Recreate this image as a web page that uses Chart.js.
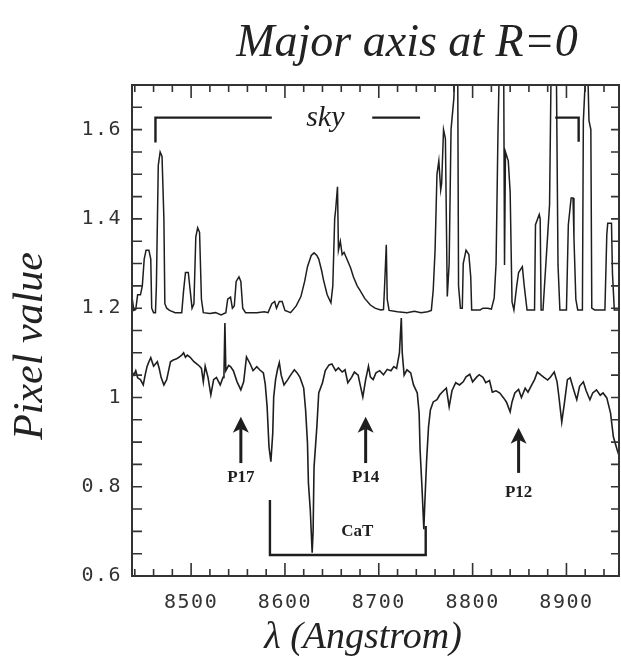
<!DOCTYPE html>
<html>
<head>
<meta charset="utf-8">
<script src="https://cdn.jsdelivr.net/npm/chart.js@4.4.0/dist/chart.umd.min.js"></script>
<style>
html, body { margin: 0; padding: 0; background: #fff; }
#wrap { width: 621px; height: 660px; }
</style>
</head>
<body>
<div id="wrap"><canvas id="myChart" width="621" height="660"></canvas></div>
<script>
// sky spectrum (upper trace)
const skyWave = [8437, 8439, 8441, 8443, 8446, 8448, 8450, 8452, 8455, 8457, 8458, 8460, 8462, 8463, 8465, 8467, 8469, 8471, 8472, 8474,
    8477, 8483, 8490, 8492, 8494, 8497, 8499, 8501, 8503, 8505, 8507, 8509, 8511, 8513, 8520, 8526, 8532, 8537, 8539, 8542,
    8544, 8546, 8548, 8551, 8553, 8555, 8558, 8570, 8578, 8582, 8586, 8589, 8591, 8594, 8597, 8600, 8606, 8612, 8617, 8621,
    8624, 8628, 8631, 8634, 8636, 8639, 8641, 8645, 8649, 8651, 8653, 8654, 8656, 8657, 8659, 8661, 8663, 8666, 8670, 8673,
    8677, 8680, 8685, 8691, 8696, 8702, 8705, 8706, 8708, 8709, 8711, 8720, 8730, 8738, 8745, 8752, 8756, 8758, 8760, 8762,
    8764, 8766, 8767, 8769, 8771, 8773, 8775, 8777, 8780, 8782, 8784, 8785, 8787, 8789, 8790, 8793, 8796, 8798, 8799, 8808,
    8811, 8816, 8820, 8823, 8825, 8827, 8829, 8833, 8834, 8835, 8838, 8840, 8842, 8844, 8847, 8849, 8853, 8855, 8858, 8866,
    8867, 8871, 8872, 8873, 8875, 8882, 8884, 8889, 8891, 8893, 8900, 8902, 8905, 8907, 8908, 8910, 8912, 8917, 8918, 8922,
    8924, 8926, 8927, 8930, 8941, 8943, 8944, 8948, 8949, 8951, 8956];
const skyFlux = [1.225, 1.195, 1.197, 1.23, 1.23, 1.25, 1.31, 1.33, 1.33, 1.31, 1.20, 1.19, 1.19, 1.25, 1.52, 1.55, 1.54, 1.40, 1.21, 1.20,
    1.195, 1.19, 1.19, 1.24, 1.28, 1.28, 1.24, 1.20, 1.21, 1.36, 1.38, 1.37, 1.22, 1.19, 1.188, 1.19, 1.185, 1.19, 1.22, 1.225,
    1.20, 1.205, 1.26, 1.27, 1.26, 1.20, 1.19, 1.19, 1.192, 1.19, 1.21, 1.215, 1.20, 1.215, 1.215, 1.195, 1.19, 1.205, 1.226, 1.26,
    1.293, 1.318, 1.324, 1.318, 1.31, 1.285, 1.264, 1.23, 1.212, 1.25, 1.40, 1.42, 1.472, 1.33, 1.35, 1.32, 1.325, 1.31, 1.29, 1.27,
    1.25, 1.24, 1.222, 1.207, 1.20, 1.196, 1.197, 1.24, 1.342, 1.22, 1.195, 1.192, 1.19, 1.193, 1.19, 1.192, 1.195, 1.24, 1.33, 1.50,
    1.53, 1.465, 1.48, 1.60, 1.58, 1.226, 1.30, 1.60, 1.67, 1.80, 1.80, 1.25, 1.20, 1.20, 1.30, 1.33, 1.32, 1.27, 1.196, 1.196,
    1.20, 1.20, 1.198, 1.223, 1.30, 1.59, 1.80, 1.80, 1.297, 1.55, 1.53, 1.46, 1.214, 1.196, 1.25, 1.28, 1.293, 1.25, 1.196, 1.196,
    1.387, 1.41, 1.40, 1.196, 1.196, 1.432, 1.80, 1.80, 1.297, 1.196, 1.196, 1.387, 1.447, 1.447, 1.358, 1.22, 1.196, 1.196, 1.618, 1.80,
    1.62, 1.60, 1.20, 1.196, 1.196, 1.365, 1.39, 1.39, 1.28, 1.196, 1.196];

// galaxy spectrum (lower trace)
const galWave = [8437, 8439, 8441, 8443, 8446, 8449, 8451, 8453, 8455, 8457, 8460, 8462, 8464, 8466, 8468, 8471, 8474, 8476, 8478, 8481,
    8484, 8487, 8490, 8492, 8494, 8496, 8499, 8503, 8506, 8509, 8511, 8513, 8515, 8518, 8521, 8524, 8527, 8531, 8534, 8535,
    8536, 8537, 8540, 8542, 8545, 8549, 8553, 8556, 8559, 8563, 8566, 8570, 8573, 8577, 8579, 8581, 8583, 8585, 8587, 8588,
    8590, 8592, 8594, 8596, 8599, 8603, 8606, 8610, 8613, 8616, 8620, 8622, 8624, 8625, 8627, 8629, 8630, 8631, 8634, 8636,
    8640, 8643, 8647, 8650, 8654, 8657, 8661, 8664, 8667, 8671, 8674, 8678, 8680, 8683, 8686, 8689, 8691, 8694, 8697, 8701,
    8705, 8709, 8713, 8716, 8719, 8722, 8724, 8725, 8727, 8730, 8734, 8737, 8741, 8743, 8744, 8746, 8748, 8749, 8751, 8753,
    8755, 8758, 8762, 8765, 8769, 8772, 8775, 8778, 8782, 8786, 8790, 8793, 8797, 8800, 8804, 8807, 8811, 8814, 8818, 8821,
    8825, 8829, 8833, 8836, 8840, 8842, 8845, 8849, 8852, 8856, 8859, 8863, 8866, 8869, 8873, 8876, 8880, 8883, 8887, 8890,
    8892, 8895, 8898, 8901, 8904, 8908, 8911, 8914, 8918, 8921, 8925, 8928, 8932, 8936, 8939, 8943, 8947, 8950, 8954, 8956];
const galFlux = [1.057, 1.050, 1.060, 1.044, 1.040, 1.028, 1.050, 1.069, 1.080, 1.089, 1.070, 1.075, 1.080, 1.065, 1.045, 1.028, 1.040, 1.060, 1.080, 1.084,
    1.086, 1.090, 1.095, 1.100, 1.090, 1.095, 1.090, 1.080, 1.075, 1.070, 1.065, 1.035, 1.070, 1.045, 1.006, 1.040, 1.045, 1.028, 1.045, 1.050,
    1.167, 1.060, 1.072, 1.069, 1.060, 1.035, 1.017, 1.035, 1.091, 1.075, 1.060, 1.069, 1.062, 1.055, 1.030, 0.979, 0.889, 0.856, 0.920, 1.001,
    1.040, 1.062, 1.078, 1.050, 1.028, 1.040, 1.050, 1.062, 1.055, 1.045, 1.021, 0.972, 0.898, 0.809, 0.748, 0.652, 0.700, 0.844, 0.934, 1.010,
    1.033, 1.060, 1.073, 1.075, 1.060, 1.066, 1.057, 1.062, 1.033, 1.045, 1.057, 1.050, 1.030, 1.001, 1.040, 1.070, 1.046, 1.040, 1.055, 1.060,
    1.051, 1.063, 1.060, 1.069, 1.065, 1.100, 1.178, 1.100, 1.050, 1.062, 1.055, 1.028, 1.010, 0.965, 0.883, 0.800, 0.705, 0.760, 0.860, 0.934,
    0.972, 0.990, 0.995, 1.006, 1.015, 1.021, 0.979, 1.015, 1.033, 1.028, 1.035, 1.046, 1.052, 1.035, 1.045, 1.051, 1.045, 1.033, 1.038, 1.012,
    1.015, 1.010, 0.999, 0.990, 0.968, 0.990, 1.010, 1.018, 1.000, 1.021, 1.012, 1.028, 1.040, 1.057, 1.050, 1.045, 1.039, 1.046, 1.057, 1.035,
    1.001, 0.945, 0.990, 1.040, 1.044, 1.015, 0.995, 1.025, 1.035, 1.015, 0.995, 1.010, 1.017, 1.005, 1.010, 0.999, 0.965, 0.912, 0.883, 0.870];

// axis ticks
const xTickLabels = [8500, 8600, 8700, 8800, 8900];
const yTickLabels = ['0.6', '0.8', '1', '1.2', '1.4', '1.6'];

// annotations
const lineNames = ['P17', 'P14', 'P12'];
const lineWave = [8553, 8686, 8849];
const cat = { label: 'CaT', from: 8584, to: 8750 };

const ink = '#1e1e1e';

function toPoints(xs, ys) {
    return xs.map((x, i) => ({ x: x, y: ys[i] }));
}

const notesPlugin = {
    id: 'notes',
    beforeDraw(chart) {
        chart.ctx.letterSpacing = '1.5px';
    },
    beforeDatasetsDraw(chart) {
        chart.ctx.letterSpacing = '0px';
    },
    afterDraw(chart) {
        const ctx = chart.ctx;
        const xs = chart.scales.x;
        const ys = chart.scales.y;
        const a = chart.chartArea;
        const X = v => xs.getPixelForValue(v);
        const Y = v => ys.getPixelForValue(v);

        ctx.save();
        ctx.letterSpacing = '0px';
        ctx.strokeStyle = '#333';
        ctx.lineWidth = 2;
        ctx.strokeRect(a.left, a.top, a.right - a.left, a.bottom - a.top);

        // inward tick marks
        ctx.lineWidth = 1.6;
        ctx.beginPath();
        for (let w = 8440; w <= 8950; w += 20) {
            const len = (w % 100 === 0) ? 13 : 7;
            const px = X(w);
            ctx.moveTo(px, a.bottom); ctx.lineTo(px, a.bottom - len);
            ctx.moveTo(px, a.top); ctx.lineTo(px, a.top + len);
        }
        for (let k = 0; k <= 22; k++) {
            const py = Y(0.6 + k * 0.05);
            if (py < a.top) break;
            ctx.moveTo(a.left, py); ctx.lineTo(a.left + 10, py);
            ctx.moveTo(a.right, py); ctx.lineTo(a.right - 8, py);
        }
        ctx.stroke();

        // sky bracket
        ctx.strokeStyle = ink;
        ctx.lineWidth = 2.4;
        ctx.beginPath();
        ctx.moveTo(X(8462), Y(1.571)); ctx.lineTo(X(8462), Y(1.627)); ctx.lineTo(X(8586), Y(1.627));
        ctx.moveTo(X(8693), Y(1.627)); ctx.lineTo(X(8744), Y(1.627));
        ctx.moveTo(X(8888), Y(1.627)); ctx.lineTo(X(8913), Y(1.627)); ctx.lineTo(X(8913), Y(1.573));
        ctx.stroke();
        ctx.fillStyle = ink;
        ctx.font = 'italic 30px "Liberation Serif", serif';
        ctx.textAlign = 'center';
        ctx.textBaseline = 'alphabetic';
        ctx.fillText('sky', X(8643), Y(1.609));

        // arrows for Paschen lines
        ctx.font = 'bold 17px "Liberation Serif", serif';
        ctx.textBaseline = 'middle';
        lineNames.forEach((name, i) => {
            const px = X(lineWave[i]);
            const tip = i === 2 ? Y(0.932) : Y(0.957);
            const tail = i === 2 ? Y(0.831) : Y(0.853);
            ctx.lineWidth = 3;
            ctx.beginPath();
            ctx.moveTo(px, tail); ctx.lineTo(px, tip + 12);
            ctx.stroke();
            ctx.beginPath();
            ctx.moveTo(px, tip); ctx.lineTo(px - 8, tip + 16); ctx.lineTo(px, tip + 12); ctx.lineTo(px + 8, tip + 16);
            ctx.closePath();
            ctx.fill();
            ctx.fillText(name, px, i === 2 ? Y(0.786) : Y(0.82));
        });

        // CaT bracket
        ctx.lineWidth = 2.4;
        ctx.beginPath();
        ctx.moveTo(X(cat.from), Y(0.770)); ctx.lineTo(X(cat.from), Y(0.647));
        ctx.lineTo(X(cat.to), Y(0.647)); ctx.lineTo(X(cat.to), Y(0.712));
        ctx.stroke();
        ctx.fillText(cat.label, X(8677), Y(0.699));

        // titles
        ctx.font = 'italic 46px "Liberation Serif", serif';
        ctx.textBaseline = 'alphabetic';
        ctx.fillStyle = '#222';
        ctx.fillText('Major axis at R=0', 407, 56);
        ctx.font = 'italic 38px "Liberation Serif", serif';
        ctx.textBaseline = 'middle';
        ctx.fillText('\u03bb (Angstrom)', 363, 638);
        ctx.translate(31, 346);
        ctx.rotate(-Math.PI / 2);
        ctx.font = 'italic 42px "Liberation Serif", serif';
        ctx.fillText('Pixel value', 0, 0);
        ctx.restore();
    }
};

const ctx = document.getElementById('myChart').getContext('2d');
new Chart(ctx, {
    type: 'line',
    data: {
        datasets: [{
            label: 'sky',
            data: toPoints(skyWave, skyFlux),
            borderColor: ink,
            borderWidth: 1.5
        }, {
            label: 'galaxy',
            data: toPoints(galWave, galFlux),
            borderColor: ink,
            borderWidth: 1.6
        }]
    },
    options: {
        responsive: false,
        animation: false,
        elements: { point: { radius: 0 }, line: { tension: 0 } },
        layout: { padding: { top: 85, right: 2, left: 0, bottom: 0 } },
        plugins: { legend: { display: false }, tooltip: { enabled: false } },
        scales: {
            x: {
                type: 'linear',
                min: 8437,
                max: 8956,
                afterFit(scale) { scale.height = 84; },
                afterBuildTicks(scale) { scale.ticks = xTickLabels.map(v => ({ value: v })); },
                grid: { display: false, drawTicks: false },
                border: { display: false },
                ticks: {
                    padding: 15,
                    color: '#333',
                    font: { family: '"DejaVu Sans Mono", monospace', size: 20 },
                    callback: v => String(v)
                }
            },
            y: {
                type: 'linear',
                min: 0.6,
                max: 1.70,
                afterFit(scale) { scale.width = 132; },
                afterBuildTicks(scale) { scale.ticks = yTickLabels.map(v => ({ value: parseFloat(v) })); },
                grid: { display: false, drawTicks: false },
                border: { display: false },
                ticks: {
                    padding: 10,
                    color: '#333',
                    font: { family: '"DejaVu Sans Mono", monospace', size: 20 },
                    callback: (v, i) => yTickLabels[i]
                }
            }
        }
    },
    plugins: [notesPlugin]
});
</script>
</body>
</html>
